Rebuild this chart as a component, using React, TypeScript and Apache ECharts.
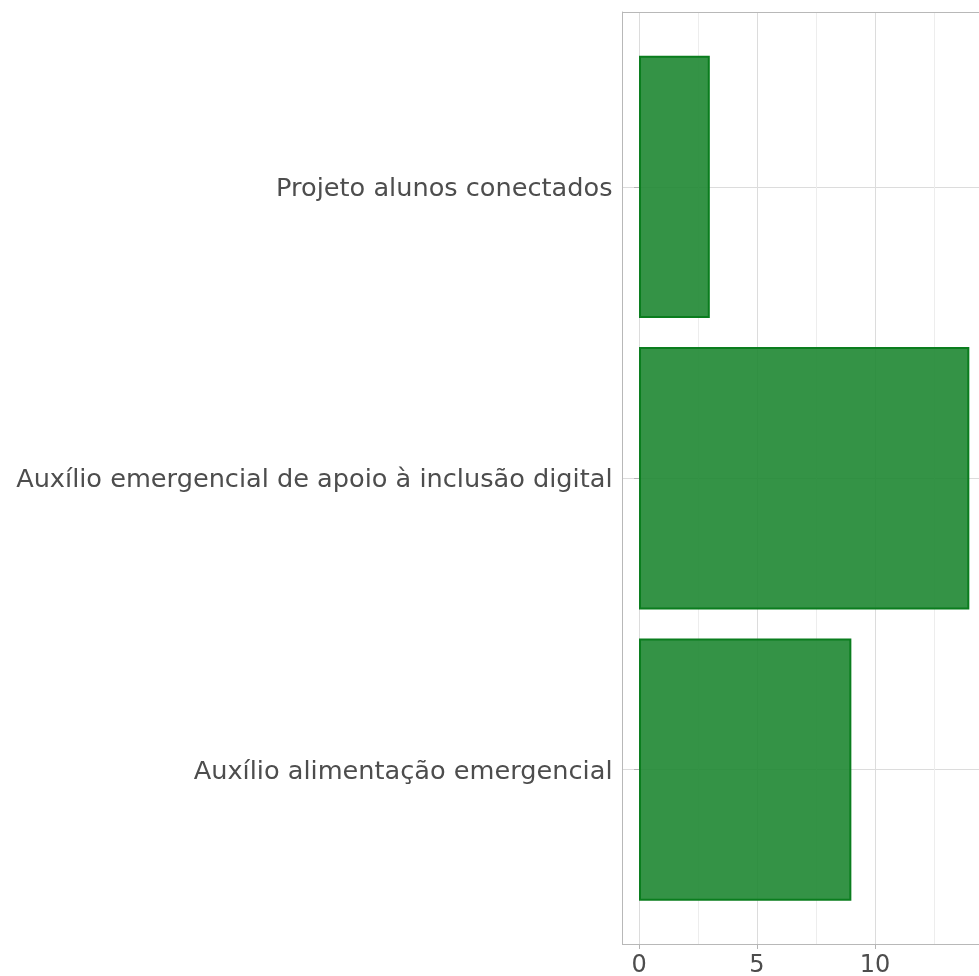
import React, { useEffect, useRef } from "react";
import * as echarts from "echarts";

const categories = [
  "Auxílio alimentação emergencial",
  "Auxílio emergencial de apoio à inclusão digital",
  "Projeto alunos conectados",
];
const values = [9, 14, 3];
const xMajorTicks = [0, 5, 10];
const xMinorTicks = [2.5, 7.5, 12.5];
const categoryPositions = [1, 2, 3];

export default function App() {
  const ref = useRef<HTMLDivElement>(null);
  useEffect(() => {
    const chart = echarts.init(ref.current!, null, { renderer: "svg" });
    const H = 976;
    const panelTop = 12;
    const panelBottom = 944.5;
    const unit = (panelBottom - panelTop) / 3.2;
    const gridLeft = 622.5;
    const gridRight = 0;
    const xMin = -0.7;
    const xMax = 14.41;
    const font = "'DejaVu Sans', sans-serif";
    const textColor = "#4d4d4d";
    const borderColor = "#b8b8b8";
    chart.setOption({
      animation: false,
      grid: [
        {
          left: gridLeft,
          right: gridRight,
          top: panelTop,
          bottom: H - panelBottom,
          show: false,
        },
        {
          left: gridLeft,
          right: gridRight,
          top: panelTop + 0.1 * unit,
          bottom: H - panelBottom + 0.1 * unit,
        },
      ],
      xAxis: [
        {
          gridIndex: 0,
          type: "value",
          min: xMin,
          max: xMax,
          axisLine: { show: true, onZero: false, lineStyle: { color: borderColor, width: 1 } },
          axisTick: {
            show: true,
            customValues: xMajorTicks,
            length: 4.5,
            lineStyle: { color: "#b3b3b3" },
          },
          axisLabel: {
            customValues: xMajorTicks,
            color: textColor,
            fontSize: 24,
            fontFamily: font,
            margin: 7,
          },
          splitLine: { show: true, lineStyle: { color: "#dcdcdc", width: 1 } },
        },
        {
          gridIndex: 0,
          type: "value",
          min: xMin,
          max: xMax,
          position: "top",
          axisLine: { show: true, onZero: false, lineStyle: { color: borderColor, width: 1 } },
          axisTick: { show: false, customValues: xMinorTicks },
          axisLabel: { show: false, customValues: xMinorTicks },
          splitLine: { show: true, lineStyle: { color: "#ededed", width: 1 } },
        },
        {
          gridIndex: 1,
          type: "value",
          min: xMin,
          max: xMax,
          show: false,
        },
      ],
      yAxis: [
        {
          gridIndex: 0,
          type: "value",
          min: 0.4,
          max: 3.6,
          position: "left",
          axisLine: { show: true, onZero: false, lineStyle: { color: borderColor, width: 1 } },
          axisTick: { show: false, customValues: categoryPositions },
          axisLabel: { show: false, customValues: categoryPositions },
          splitLine: { show: true, lineStyle: { color: "#dcdcdc", width: 1 } },
        },
        {
          gridIndex: 1,
          type: "category",
          data: categories,
          axisLine: { show: false },
          axisTick: {
            show: true,
            alignWithLabel: true,
            length: 5,
            lineStyle: { color: "#b3b3b3" },
          },
          axisLabel: {
            color: textColor,
            fontSize: 25.6,
            fontFamily: font,
            margin: 10,
          },
          splitLine: { show: false },
        },
      ],
      series: [
        {
          type: "bar",
          xAxisIndex: 2,
          yAxisIndex: 1,
          data: values,
          barWidth: "90%",
          itemStyle: {
            color: "rgba(30,135,50,0.9)",
            borderColor: "#0a7d1e",
            borderWidth: 2,
          },
        },
      ],
    });
    return () => chart.dispose();
  }, []);
  return (
    <div
      ref={ref}
      style={{ position: "fixed", left: 0, top: 0, width: 979, height: 976 }}
    />
  );
}
